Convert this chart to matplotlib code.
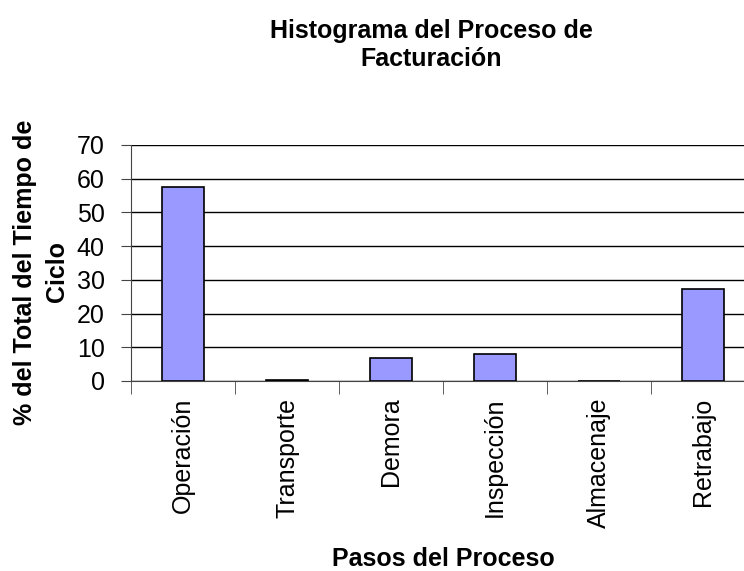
import matplotlib
matplotlib.use("Agg")
import matplotlib.pyplot as plt
import numpy as np

categories = ["Operación", "Transporte", "Demora", "Inspección", "Almacenaje", "Retrabajo"]
values = [57.6, 0.4, 6.7, 8.0, 0.0, 27.2]

plt.rcParams['font.family'] = ['Liberation Sans', 'DejaVu Sans']
FS = 18

fig = plt.figure(figsize=(7.44, 5.71), dpi=100)
ax = fig.add_axes([131/744, (571-381)/571, (755-131)/744, (381-145)/571])
x = np.arange(len(categories))
ax.bar(x, values, width=0.41, color='#9999ff', edgecolor='black', linewidth=1.2, zorder=3)
ax.set_xlim(-0.5, len(categories) - 0.5)
ax.set_ylim(0, 70)
ax.set_yticks(range(0, 71, 10))
ax.yaxis.grid(True, color='black', linewidth=1.0, zorder=0)
for s in ['top', 'right']:
    ax.spines[s].set_visible(False)
ax.spines['left'].set_color('#444444')
ax.spines['bottom'].set_color('#444444')
ax.set_xticks(x)
ax.set_xticklabels(categories, rotation=90, fontsize=FS)
ax.tick_params(axis='x', length=0, pad=12)
ax.set_xticks(np.arange(-0.5, len(categories), 1), minor=True)
ax.tick_params(axis='x', which='minor', length=9, color='#444444')
ax.tick_params(axis='y', labelsize=FS, length=7, color='#444444', pad=12)
fig.text(443/744, 1 - 566/571, "Pasos del Proceso", ha='center', va='baseline',
         fontsize=FS, fontweight='bold')
fig.text(41/744, 1 - 272/571, "% del Total del Tiempo de\nCiclo", ha='center', va='center',
         rotation=90, fontsize=FS, fontweight='bold', linespacing=1.45)
fig.text(431/744, 1 - 45/571, "Histograma del Proceso de\nFacturación", ha='center', va='center',
         fontsize=FS, fontweight='bold', linespacing=1.25)
fig.savefig("out.png", dpi=100)
